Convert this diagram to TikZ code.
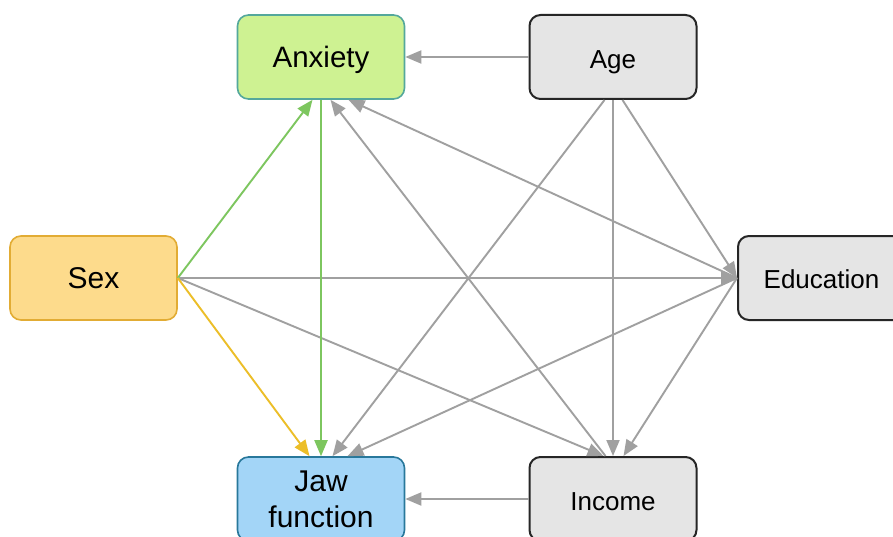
\documentclass[tikz,border=0pt]{standalone}
\usepackage{fontspec}
\setmainfont{Liberation Sans}
\usetikzlibrary{arrows.meta}
\definecolor{anxfill}{RGB}{206,242,146}
\definecolor{anxdraw}{RGB}{84,168,156}
\definecolor{jawfill}{RGB}{163,213,247}
\definecolor{jawdraw}{RGB}{40,120,155}
\definecolor{sexfill}{RGB}{253,219,140}
\definecolor{sexdraw}{RGB}{226,172,52}
\definecolor{boxgray}{RGB}{229,229,229}
\definecolor{arrgray}{RGB}{160,160,160}
\definecolor{arrgreen}{RGB}{125,198,95}
\definecolor{arryellow}{RGB}{236,190,40}
\begin{document}
\begin{tikzpicture}[x=1pt,y=-1pt,
 box/.style={rounded corners=11pt, minimum width=167pt, minimum height=84pt, inner sep=0pt, align=center, line width=1.6pt},
 graybox/.style={box, fill=boxgray, draw=black!85, line width=2pt, font=\fontsize{26}{30}\selectfont, text depth=0pt},
 bigbox/.style={box, font=\fontsize{30}{36}\selectfont},
 arr/.style={line width=1.9pt, -{Triangle[length=16pt,width=13pt]}, draw=arrgray},
 garr/.style={arr, draw=arrgreen, -{Triangle[length=16pt,width=13pt]}},
 yarr/.style={arr, draw=arryellow, -{Triangle[length=16pt,width=13pt]}},
]
\useasboundingbox (0,0) rectangle (893,537);
\clip (0,0) rectangle (893,537);
\fill[white] (0,0) rectangle (893,537);

\node[box, fill=anxfill, draw=anxdraw, font=\fontsize{29.5}{36}\selectfont, text height=21pt, text depth=0pt] (anx) at (321,57) {Anxiety};
\node[graybox, text height=22.6pt] (age) at (613,57) {Age};
\node[bigbox, fill=sexfill, draw=sexdraw, text height=20.5pt, text depth=0pt] (sex) at (93.5,278) {Sex};
\node[graybox, text height=20.6pt] (edu) at (821.5,278) {Education};
\node[bigbox, fill=jawfill, draw=jawdraw] (jaw) at (321,499) {Jaw\\function};
\node[graybox, text height=22.6pt] (inc) at (613,499) {Income};

% gray arrows
\draw[arr] (age.west) -- (anx.east);
\draw[arr] (inc.west) -- (jaw.east);
\draw[arr] (sex.east) -- (edu.west);
\draw[arr] (sex.east) -- ([xshift=-9.5pt]inc.north);
\draw[arr] ([xshift=-8.5pt]age.south) -- ([xshift=11.5pt]jaw.north);
\draw[arr] (age.south) -- (inc.north);
\draw[arr] ([xshift=9.5pt]age.south) -- (edu.west);
\draw[arr] (edu.west) -- ([xshift=27.5pt]anx.south);
\draw[arr] ([xshift=-7.5pt]inc.north) -- ([xshift=9.5pt]anx.south);
\draw[arr] (edu.west) -- ([xshift=26.5pt]jaw.north);
\draw[arr] (edu.west) -- ([xshift=10.5pt]inc.north);

% coloured arrows
\draw[garr] (sex.east) -- ([xshift=-8.5pt]anx.south);
\draw[garr] (anx.south) -- (jaw.north);
\draw[yarr] (sex.east) -- ([xshift=-11.5pt]jaw.north);
\end{tikzpicture}
\end{document}
